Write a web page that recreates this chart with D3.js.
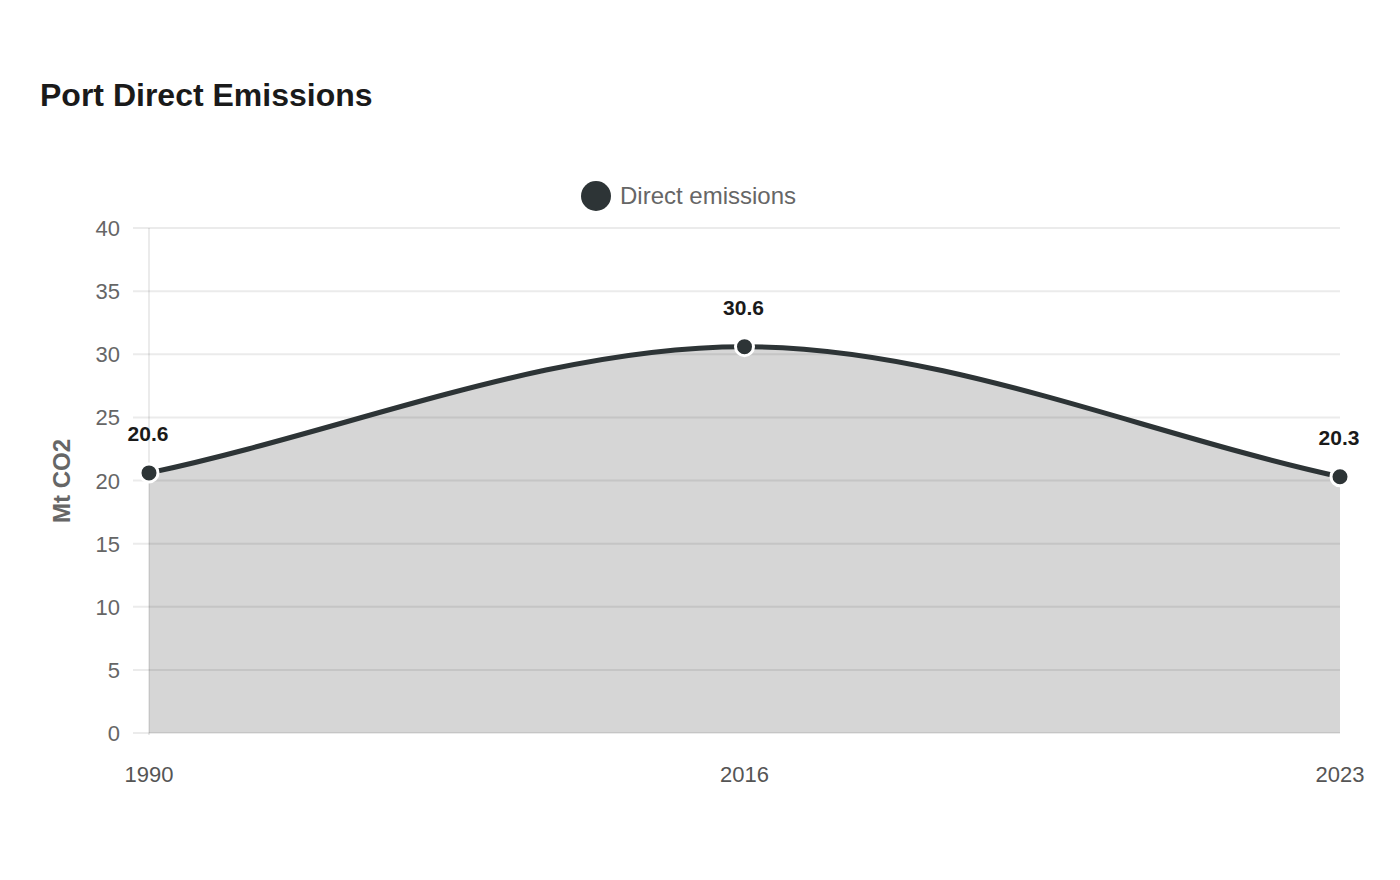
<!DOCTYPE html>
<html>
<head>
<meta charset="utf-8">
<script src="https://cdn.jsdelivr.net/npm/d3@7"></script>
<style>
  body { margin: 0; background: #fff; }
  svg { font-family: "Liberation Sans", Arial, sans-serif; }
</style>
</head>
<body>
<script>
// chart data
var years = ["1990", "2016", "2023"];
var emissions = [20.6, 30.6, 20.3];
var yTicks = [0, 5, 10, 15, 20, 25, 30, 35, 40];
var seriesName = "Direct emissions";

var width = 1400, height = 880;
var lineColor = "#2d3436";

var svg = d3.select("body").append("svg")
    .attr("width", width)
    .attr("height", height);

var x = d3.scalePoint().domain(years).range([149, 1340]);
var y = d3.scaleLinear().domain([0, 40]).range([733, 228]);

// title
svg.append("text")
    .attr("x", 40)
    .attr("y", 106)
    .style("font-size", "32px")
    .style("font-weight", "bold")
    .style("fill", "#1a1a1a")
    .text("Port Direct Emissions");

// legend
svg.append("circle")
    .attr("cx", 596).attr("cy", 196).attr("r", 15)
    .style("fill", lineColor);
svg.append("text")
    .attr("x", 620).attr("y", 204)
    .style("font-size", "24px")
    .style("fill", "#666")
    .text(seriesName);

var data = years.map(function(d, i) { return {year: d, value: emissions[i]}; });
var pts = data.map(function(d) { return [x(d.year), y(d.value)]; });

// monotone cubic (endpoint tangent = secant slope, like chart.js)
function monotonePath(p, ctx) {
  var n = p.length, delta = [], m = [];
  for (var i = 0; i < n - 1; i++) {
    delta.push((p[i+1][1] - p[i][1]) / (p[i+1][0] - p[i][0]));
  }
  for (var i = 0; i < n; i++) {
    if (i === 0) m.push(delta[0]);
    else if (i === n - 1) m.push(delta[n-2]);
    else if (Math.sign(delta[i-1]) !== Math.sign(delta[i])) m.push(0);
    else m.push((delta[i-1] + delta[i]) / 2);
  }
  ctx.moveTo(p[0][0], p[0][1]);
  for (var i = 0; i < n - 1; i++) {
    var dx = (p[i+1][0] - p[i][0]) / 3;
    ctx.bezierCurveTo(p[i][0] + dx, p[i][1] + m[i] * dx,
                      p[i+1][0] - dx, p[i+1][1] - m[i+1] * dx,
                      p[i+1][0], p[i+1][1]);
  }
  return ctx;
}

// area fill
var ap = monotonePath(pts, d3.path());
ap.lineTo(pts[pts.length-1][0], y(0));
ap.lineTo(pts[0][0], y(0));
ap.closePath();
svg.append("path")
    .attr("d", ap.toString())
    .style("fill", "#d6d6d6");

// grid lines
svg.append("g")
    .selectAll("line")
    .data(yTicks)
    .enter().append("line")
    .attr("x1", 133).attr("x2", 1340)
    .attr("y1", function(d) { return y(d); })
    .attr("y2", function(d) { return y(d); })
    .style("stroke", "rgba(0,0,0,0.08)")
    .style("stroke-width", 2);

svg.append("line")
    .attr("x1", 149).attr("x2", 149)
    .attr("y1", y(40)).attr("y2", y(0) + 2)
    .style("stroke", "rgba(0,0,0,0.08)")
    .style("stroke-width", 2);

// y tick labels
svg.append("g")
    .selectAll("text")
    .data(yTicks)
    .enter().append("text")
    .attr("x", 120)
    .attr("y", function(d) { return y(d) + 8; })
    .attr("text-anchor", "end")
    .style("font-size", "22px")
    .style("fill", "#666")
    .text(function(d) { return d; });

// x tick labels
svg.append("g")
    .selectAll("text")
    .data(years)
    .enter().append("text")
    .attr("x", function(d) { return x(d); })
    .attr("y", 782)
    .attr("text-anchor", "middle")
    .style("font-size", "22px")
    .style("fill", "#555")
    .text(function(d) { return d; });

// y axis title
svg.append("text")
    .attr("transform", "translate(70,481) rotate(-90)")
    .attr("text-anchor", "middle")
    .style("font-size", "24px")
    .style("font-weight", "bold")
    .style("fill", "#666")
    .text("Mt CO2");

// line
svg.append("path")
    .attr("d", monotonePath(pts, d3.path()).toString())
    .style("fill", "none")
    .style("stroke", lineColor)
    .style("stroke-width", 5);

// points
svg.append("g")
    .selectAll("circle")
    .data(data)
    .enter().append("circle")
    .attr("cx", function(d) { return x(d.year); })
    .attr("cy", function(d) { return y(d.value); })
    .attr("r", 9)
    .style("fill", lineColor)
    .style("stroke", "#fff")
    .style("stroke-width", 3);

// value labels
svg.append("g")
    .selectAll("text")
    .data(data)
    .enter().append("text")
    .attr("x", function(d) { return x(d.year) - 1; })
    .attr("y", function(d) { return y(d.value) - 32; })
    .attr("text-anchor", "middle")
    .style("font-size", "21px")
    .style("font-weight", "bold")
    .style("fill", "#1a1a1a")
    .text(function(d) { return d.value.toFixed(1); });
</script>
</body>
</html>
